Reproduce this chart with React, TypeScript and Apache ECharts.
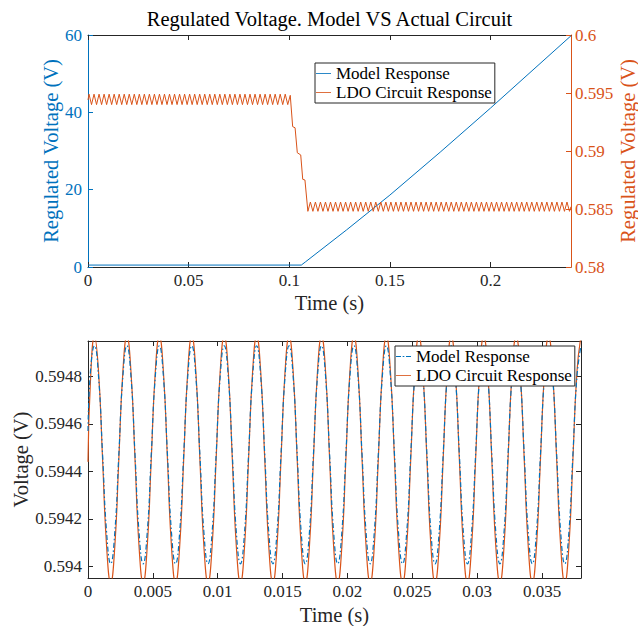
import React, { useEffect, useRef } from "react";
import * as echarts from "echarts";

const FONT = "Liberation Serif";
const BLUE = "#0072BD";
const ORANGE = "#D95319";
const AXIS = "#262626";

// ---------- Top chart data ----------
const titleText = "Regulated Voltage. Model VS Actual Circuit";
const seriesNames = ["Model Response", "LDO Circuit Response"];
const seriesColors = [BLUE, ORANGE];

const topXTicks = [0, 0.05, 0.1, 0.15, 0.2];
const topLeftTicks = [0, 20, 40, 60];
const topRightTicks = [0.58, 0.585, 0.59, 0.595, 0.6];

// Model response (left axis, V)
const modelTopTime = [0, 0.106, 0.108, 0.1285, 0.15, 0.175, 0.2, 0.24];
const modelTopVolt = [0.5, 0.5, 1.3, 9.6, 18.6, 29.7, 41.1, 59.8];

// LDO circuit response (right axis, V)
const ldoTopTime = [
  0,
  0.0005, 0.00175, 0.003, 0.00425, 0.0055, 0.00675, 0.008, 0.00925, 0.0105, 0.01175,
  0.013, 0.01425, 0.0155, 0.01675, 0.018, 0.01925, 0.0205, 0.02175, 0.023, 0.02425,
  0.0255, 0.02675, 0.028, 0.02925, 0.0305, 0.03175, 0.033, 0.03425, 0.0355, 0.03675,
  0.038, 0.03925, 0.0405, 0.04175, 0.043, 0.04425, 0.0455, 0.04675, 0.048, 0.04925,
  0.0505, 0.05175, 0.053, 0.05425, 0.0555, 0.05675, 0.058, 0.05925, 0.0605, 0.06175,
  0.063, 0.06425, 0.0655, 0.06675, 0.068, 0.06925, 0.0705, 0.07175, 0.073, 0.07425,
  0.0755, 0.07675, 0.078, 0.07925, 0.0805, 0.08175, 0.083, 0.08425, 0.0855, 0.08675,
  0.088, 0.08925, 0.0905, 0.09175, 0.093, 0.09425, 0.0955, 0.09675, 0.098, 0.09925,
  0.1005, 0.1017, 0.1029, 0.104, 0.1057, 0.1067, 0.1078,
  0.10925, 0.1105, 0.11175, 0.113, 0.11425, 0.1155, 0.11675, 0.118, 0.11925, 0.1205,
  0.12175, 0.123, 0.12425, 0.1255, 0.12675, 0.128, 0.12925, 0.1305, 0.13175, 0.133,
  0.13425, 0.1355, 0.13675, 0.138, 0.13925, 0.1405, 0.14175, 0.143, 0.14425, 0.1455,
  0.14675, 0.148, 0.14925, 0.1505, 0.15175, 0.153, 0.15425, 0.1555, 0.15675, 0.158,
  0.15925, 0.1605, 0.16175, 0.163, 0.16425, 0.1655, 0.16675, 0.168, 0.16925, 0.1705,
  0.17175, 0.173, 0.17425, 0.1755, 0.17675, 0.178, 0.17925, 0.1805, 0.18175, 0.183,
  0.18425, 0.1855, 0.18675, 0.188, 0.18925, 0.1905, 0.19175, 0.193, 0.19425, 0.1955,
  0.19675, 0.198, 0.19925, 0.2005, 0.20175, 0.203, 0.20425, 0.2055, 0.20675, 0.208,
  0.20925, 0.2105, 0.21175, 0.213, 0.21425, 0.2155, 0.21675, 0.218, 0.21925, 0.2205,
  0.22175, 0.223, 0.22425, 0.2255, 0.22675, 0.228, 0.22925, 0.2305, 0.23175, 0.233,
  0.23425, 0.2355, 0.23675, 0.238, 0.23925, 0.24,
];
const ldoTopVolt = [
  0.5944,
  0.5949, 0.594, 0.5949, 0.594, 0.5949, 0.594, 0.5949, 0.594, 0.5949, 0.594,
  0.5949, 0.594, 0.5949, 0.594, 0.5949, 0.594, 0.5949, 0.594, 0.5949, 0.594,
  0.5949, 0.594, 0.5949, 0.594, 0.5949, 0.594, 0.5949, 0.594, 0.5949, 0.594,
  0.5949, 0.594, 0.5949, 0.594, 0.5949, 0.594, 0.5949, 0.594, 0.5949, 0.594,
  0.5949, 0.594, 0.5949, 0.594, 0.5949, 0.594, 0.5949, 0.594, 0.5949, 0.594,
  0.5949, 0.594, 0.5949, 0.594, 0.5949, 0.594, 0.5949, 0.594, 0.5949, 0.594,
  0.5949, 0.594, 0.5949, 0.594, 0.5949, 0.594, 0.5949, 0.594, 0.5949, 0.594,
  0.5949, 0.594, 0.5949, 0.594, 0.5949, 0.594, 0.5949, 0.594, 0.5949, 0.594,
  0.5948, 0.5921, 0.592, 0.58985, 0.58966, 0.58756, 0.5875,
  0.5848, 0.5856, 0.5848, 0.5856, 0.5848, 0.5856, 0.5848, 0.5856, 0.5848, 0.5856,
  0.5848, 0.5856, 0.5848, 0.5856, 0.5848, 0.5856, 0.5848, 0.5856, 0.5848, 0.5856,
  0.5848, 0.5856, 0.5848, 0.5856, 0.5848, 0.5856, 0.5848, 0.5856, 0.5848, 0.5856,
  0.5848, 0.5856, 0.5848, 0.5856, 0.5848, 0.5856, 0.5848, 0.5856, 0.5848, 0.5856,
  0.5848, 0.5856, 0.5848, 0.5856, 0.5848, 0.5856, 0.5848, 0.5856, 0.5848, 0.5856,
  0.5848, 0.5856, 0.5848, 0.5856, 0.5848, 0.5856, 0.5848, 0.5856, 0.5848, 0.5856,
  0.5848, 0.5856, 0.5848, 0.5856, 0.5848, 0.5856, 0.5848, 0.5856, 0.5848, 0.5856,
  0.5848, 0.5856, 0.5848, 0.5856, 0.5848, 0.5856, 0.5848, 0.5856, 0.5848, 0.5856,
  0.5848, 0.5856, 0.5848, 0.5856, 0.5848, 0.5856, 0.5848, 0.5856, 0.5848, 0.5856,
  0.5848, 0.5856, 0.5848, 0.5856, 0.5848, 0.5856, 0.5848, 0.5856, 0.5848, 0.5856,
  0.5848, 0.5856, 0.5848, 0.5856, 0.5848, 0.5852,
];

// ---------- Bottom chart data ----------
const botXTicks = [0, 0.005, 0.01, 0.015, 0.02, 0.025, 0.03, 0.035];
const botYTicks = [0.594, 0.5942, 0.5944, 0.5946, 0.5948];

const botTime = [
  0, 0.0001875,
  0.0005, 0.0008125, 0.001125, 0.0014375, 0.00175, 0.0020625, 0.002375, 0.0026875,
  0.003, 0.0033125, 0.003625, 0.0039375, 0.00425, 0.0045625, 0.004875, 0.0051875,
  0.0055, 0.0058125, 0.006125, 0.0064375, 0.00675, 0.0070625, 0.007375, 0.0076875,
  0.008, 0.0083125, 0.008625, 0.0089375, 0.00925, 0.0095625, 0.009875, 0.0101875,
  0.0105, 0.0108125, 0.011125, 0.0114375, 0.01175, 0.0120625, 0.012375, 0.0126875,
  0.013, 0.0133125, 0.013625, 0.0139375, 0.01425, 0.0145625, 0.014875, 0.0151875,
  0.0155, 0.0158125, 0.016125, 0.0164375, 0.01675, 0.0170625, 0.017375, 0.0176875,
  0.018, 0.0183125, 0.018625, 0.0189375, 0.01925, 0.0195625, 0.019875, 0.0201875,
  0.0205, 0.0208125, 0.021125, 0.0214375, 0.02175, 0.0220625, 0.022375, 0.0226875,
  0.023, 0.0233125, 0.023625, 0.0239375, 0.02425, 0.0245625, 0.024875, 0.0251875,
  0.0255, 0.0258125, 0.026125, 0.0264375, 0.02675, 0.0270625, 0.027375, 0.0276875,
  0.028, 0.0283125, 0.028625, 0.0289375, 0.02925, 0.0295625, 0.029875, 0.0301875,
  0.0305, 0.0308125, 0.031125, 0.0314375, 0.03175, 0.0320625, 0.032375, 0.0326875,
  0.033, 0.0333125, 0.033625, 0.0339375, 0.03425, 0.0345625, 0.034875, 0.0351875,
  0.0355, 0.0358125, 0.036125, 0.0364375, 0.03675, 0.0370625, 0.037375, 0.0376875,
  0.038,
];
const modelBotVolt = [
  0.59457, 0.59482,
  0.59493, 0.5948, 0.59447, 0.59414, 0.59401, 0.59414, 0.59447, 0.5948,
  0.59493, 0.5948, 0.59447, 0.59414, 0.59401, 0.59414, 0.59447, 0.5948,
  0.59493, 0.5948, 0.59447, 0.59414, 0.59401, 0.59414, 0.59447, 0.5948,
  0.59493, 0.5948, 0.59447, 0.59414, 0.59401, 0.59414, 0.59447, 0.5948,
  0.59493, 0.5948, 0.59447, 0.59414, 0.59401, 0.59414, 0.59447, 0.5948,
  0.59493, 0.5948, 0.59447, 0.59414, 0.59401, 0.59414, 0.59447, 0.5948,
  0.59493, 0.5948, 0.59447, 0.59414, 0.59401, 0.59414, 0.59447, 0.5948,
  0.59493, 0.5948, 0.59447, 0.59414, 0.59401, 0.59414, 0.59447, 0.5948,
  0.59493, 0.5948, 0.59447, 0.59414, 0.59401, 0.59414, 0.59447, 0.5948,
  0.59493, 0.5948, 0.59447, 0.59414, 0.59401, 0.59414, 0.59447, 0.5948,
  0.59493, 0.5948, 0.59447, 0.59414, 0.59401, 0.59414, 0.59447, 0.5948,
  0.59493, 0.5948, 0.59447, 0.59414, 0.59401, 0.59414, 0.59447, 0.5948,
  0.59493, 0.5948, 0.59447, 0.59414, 0.59401, 0.59414, 0.59447, 0.5948,
  0.59493, 0.5948, 0.59447, 0.59414, 0.59401, 0.59414, 0.59447, 0.5948,
  0.59493, 0.5948, 0.59447, 0.59414, 0.59401, 0.59414, 0.59447, 0.5948,
  0.59493,
];
const ldoBotVolt = [
  0.59444, 0.59478,
  0.59497, 0.59482, 0.59445, 0.59408, 0.59393, 0.59408, 0.59445, 0.59482,
  0.59497, 0.59482, 0.59445, 0.59408, 0.59393, 0.59408, 0.59445, 0.59482,
  0.59497, 0.59482, 0.59445, 0.59408, 0.59393, 0.59408, 0.59445, 0.59482,
  0.59497, 0.59482, 0.59445, 0.59408, 0.59393, 0.59408, 0.59445, 0.59482,
  0.59497, 0.59482, 0.59445, 0.59408, 0.59393, 0.59408, 0.59445, 0.59482,
  0.59497, 0.59482, 0.59445, 0.59408, 0.59393, 0.59408, 0.59445, 0.59482,
  0.59497, 0.59482, 0.59445, 0.59408, 0.59393, 0.59408, 0.59445, 0.59482,
  0.59497, 0.59482, 0.59445, 0.59408, 0.59393, 0.59408, 0.59445, 0.59482,
  0.59497, 0.59482, 0.59445, 0.59408, 0.59393, 0.59408, 0.59445, 0.59482,
  0.59497, 0.59482, 0.59445, 0.59408, 0.59393, 0.59408, 0.59445, 0.59482,
  0.59497, 0.59482, 0.59445, 0.59408, 0.59393, 0.59408, 0.59445, 0.59482,
  0.59497, 0.59482, 0.59445, 0.59408, 0.59393, 0.59408, 0.59445, 0.59482,
  0.59497, 0.59482, 0.59445, 0.59408, 0.59393, 0.59408, 0.59445, 0.59482,
  0.59497, 0.59482, 0.59445, 0.59408, 0.59393, 0.59408, 0.59445, 0.59482,
  0.59497, 0.59482, 0.59445, 0.59408, 0.59393, 0.59408, 0.59445, 0.59482,
  0.59497,
];

const zip = (xs: number[], ys: number[]) => xs.map((x, i) => [x, ys[i]]);
const fmt = (v: number) => String(parseFloat(v.toFixed(6)));

const ICON_SOLID = "path://M0,0H18V1H0Z";
const ICON_DASHDOT = "path://M0,0H6V1H0Z M8,0H10V1H8Z M12,0H18V1H12Z";

const tickCommon = (vals: number[], color: string) => ({
  show: true,
  inside: true,
  length: 5,
  customValues: vals,
  lineStyle: { color, width: 1 },
});

const legendCommon = (left: number, top: number, icons: string[]) => ({
  data: seriesNames.map((n, i) => ({
    name: n,
    icon: icons[i],
    itemStyle: { color: seriesColors[i], borderWidth: 0, opacity: 1 },
    lineStyle: { width: 0 },
  })),
  orient: "vertical",
  left,
  top,
  itemWidth: 15,
  itemHeight: 1.3,
  itemGap: 2,
  padding: [2, 3, 2, 1],
  borderColor: AXIS,
  borderWidth: 1,
  borderRadius: 0,
  backgroundColor: "#fff",
  textStyle: { fontFamily: FONT, fontSize: 17, color: "#000", lineHeight: 17 },
});

const nameStyle = (color: string) => ({ fontFamily: FONT, fontSize: 20.5, color });
const labelStyle = (vals: number[], color: string, margin: number) => ({
  customValues: vals,
  formatter: fmt,
  color,
  fontFamily: FONT,
  fontSize: 17,
  margin,
});
const lineAx = (color: string) => ({ show: true, onZero: false, lineStyle: { color, width: 1 } });

function topOption(): any {
  return {
    animation: false,
    backgroundColor: "#fff",
    graphic: [
      {
        type: "text",
        x: 329.5,
        y: 19,
        style: {
          text: titleText,
          fontFamily: FONT,
          fontSize: 20.5,
          fill: "#000",
          textAlign: "center",
          textVerticalAlign: "middle",
        },
      },
    ],
    grid: { left: 88, top: 35, width: 483, height: 232, containLabel: false, outerBoundsMode: "none" },
    legend: legendCommon(315, 63, [ICON_SOLID, ICON_SOLID]),
    xAxis: [
      {
        type: "value",
        min: 0,
        max: 0.24,
        position: "bottom",
        splitLine: { show: false },
        axisLine: lineAx(AXIS),
        axisTick: tickCommon(topXTicks, AXIS),
        axisLabel: labelStyle(topXTicks, AXIS, 5),
        name: "Time (s)",
        nameLocation: "middle",
        nameGap: 25,
        nameMoveOverlap: false,
        nameTextStyle: nameStyle(AXIS),
      },
      {
        type: "value",
        min: 0,
        max: 0.24,
        position: "top",
        splitLine: { show: false },
        axisLine: lineAx(AXIS),
        axisTick: tickCommon(topXTicks, AXIS),
        axisLabel: { show: false },
      },
    ],
    yAxis: [
      {
        type: "value",
        min: 0,
        max: 60,
        position: "left",
        splitLine: { show: false },
        axisLine: lineAx(BLUE),
        axisTick: tickCommon(topLeftTicks, BLUE),
        axisLabel: labelStyle(topLeftTicks, BLUE, 6),
        name: "Regulated Voltage (V)",
        nameLocation: "middle",
        nameRotate: 90,
        nameGap: 27,
        nameMoveOverlap: false,
        nameTextStyle: nameStyle(BLUE),
      },
      {
        type: "value",
        min: 0.58,
        max: 0.6,
        position: "right",
        splitLine: { show: false },
        axisLine: lineAx(ORANGE),
        axisTick: tickCommon(topRightTicks, ORANGE),
        axisLabel: labelStyle(topRightTicks, ORANGE, 4),
        name: "Regulated Voltage (V)",
        nameLocation: "middle",
        nameRotate: 90,
        nameGap: 46,
        nameMoveOverlap: false,
        nameTextStyle: nameStyle(ORANGE),
      },
    ],
    series: [
      {
        name: seriesNames[0],
        type: "line",
        xAxisIndex: 0,
        yAxisIndex: 0,
        data: zip(modelTopTime, modelTopVolt),
        symbol: "none",
        lineStyle: { color: BLUE, width: 1 },
        itemStyle: { color: BLUE },
      },
      {
        name: seriesNames[1],
        type: "line",
        xAxisIndex: 0,
        yAxisIndex: 1,
        data: zip(ldoTopTime, ldoTopVolt),
        symbol: "none",
        lineStyle: { color: ORANGE, width: 1 },
        itemStyle: { color: ORANGE },
      },
    ],
  };
}

function bottomOption(): any {
  return {
    animation: false,
    backgroundColor: "#fff",
    grid: { left: 88, top: 21, width: 493, height: 237, containLabel: false, outerBoundsMode: "none" },
    legend: legendCommon(395, 26, [ICON_DASHDOT, ICON_SOLID]),
    xAxis: [
      {
        type: "value",
        min: 0,
        max: 0.038,
        position: "bottom",
        splitLine: { show: false },
        axisLine: lineAx(AXIS),
        axisTick: tickCommon(botXTicks, AXIS),
        axisLabel: labelStyle(botXTicks, AXIS, 5),
        name: "Time (s)",
        nameLocation: "middle",
        nameGap: 26,
        nameMoveOverlap: false,
        nameTextStyle: nameStyle(AXIS),
      },
      {
        type: "value",
        min: 0,
        max: 0.038,
        position: "top",
        splitLine: { show: false },
        axisLine: lineAx(AXIS),
        axisTick: tickCommon(botXTicks, AXIS),
        axisLabel: { show: false },
      },
    ],
    yAxis: [
      {
        type: "value",
        min: 0.59395,
        max: 0.59495,
        position: "left",
        splitLine: { show: false },
        axisLine: lineAx(AXIS),
        axisTick: tickCommon(botYTicks, AXIS),
        axisLabel: labelStyle(botYTicks, AXIS, 6),
        name: "Voltage (V)",
        nameLocation: "middle",
        nameRotate: 90,
        nameGap: 57,
        nameMoveOverlap: false,
        nameTextStyle: nameStyle(AXIS),
      },
      {
        type: "value",
        min: 0.59395,
        max: 0.59495,
        position: "right",
        splitLine: { show: false },
        axisLine: lineAx(AXIS),
        axisTick: tickCommon(botYTicks, AXIS),
        axisLabel: { show: false },
      },
    ],
    series: [
      {
        name: seriesNames[0],
        type: "line",
        xAxisIndex: 0,
        yAxisIndex: 0,
        data: zip(botTime, modelBotVolt),
        symbol: "none",
        smooth: 0.5,
        z: 3,
        lineStyle: { color: BLUE, width: 1.2, type: [5, 2.5, 1.5, 2.5] },
        itemStyle: { color: BLUE },
      },
      {
        name: seriesNames[1],
        type: "line",
        xAxisIndex: 0,
        yAxisIndex: 0,
        data: zip(botTime, ldoBotVolt),
        symbol: "none",
        smooth: 0.5,
        z: 2,
        lineStyle: { color: ORANGE, width: 1.2 },
        itemStyle: { color: ORANGE },
      },
    ],
  };
}

export default function App() {
  const topRef = useRef<HTMLDivElement>(null);
  const botRef = useRef<HTMLDivElement>(null);

  useEffect(() => {
    if (!topRef.current || !botRef.current) return;
    const c1 = echarts.init(topRef.current, undefined, { renderer: "svg" });
    const c2 = echarts.init(botRef.current, undefined, { renderer: "svg" });
    c1.setOption(topOption());
    c2.setOption(bottomOption());
    return () => {
      c1.dispose();
      c2.dispose();
    };
  }, []);

  return (
    <div
      style={{
        position: "fixed",
        left: 0,
        top: 0,
        width: 638,
        height: 626,
        background: "#fff",
      }}
    >
      <div ref={topRef} style={{ position: "absolute", left: 0, top: 0, width: 638, height: 320 }} />
      <div ref={botRef} style={{ position: "absolute", left: 0, top: 320, width: 638, height: 306 }} />
    </div>
  );
}
